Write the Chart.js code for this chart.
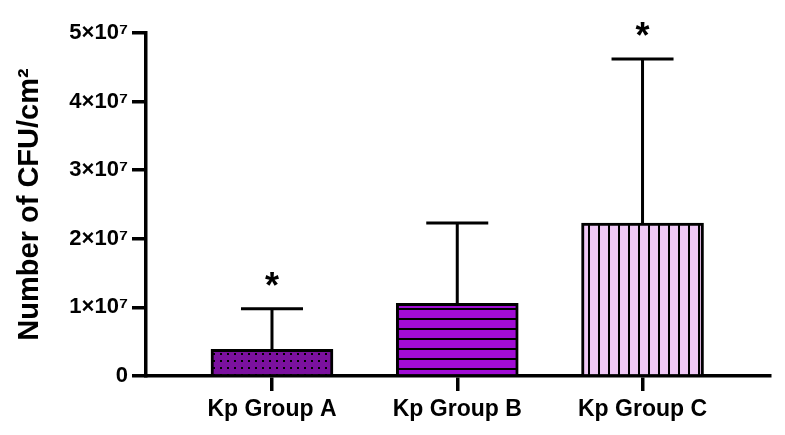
<!DOCTYPE html>
<html>
<head>
<meta charset="utf-8">
<script src="https://cdn.jsdelivr.net/npm/chart.js@4"></script>
<style>
  html, body { margin: 0; padding: 0; background: #fff; }
  #wrap { width: 785px; height: 435px; }
</style>
</head>
<body>
<div id="wrap"><canvas id="c" width="785" height="435"></canvas></div>
<script>
const categories = ['Kp Group A', 'Kp Group B', 'Kp Group C'];
const means = [3.9e6, 1.06e7, 2.23e7];
const sds = [5.9e6, 1.17e7, 2.39e7];
const significant = [true, false, true];
const yTickValues = [0, 1e7, 2e7, 3e7, 4e7, 5e7];
const yTickLabels = ['0', '1×10⁷', '2×10⁷', '3×10⁷', '4×10⁷', '5×10⁷'];
const barColors = ['#7b119f', '#a10cd6', '#efc8f5'];
const yTitle = 'Number of CFU/cm²';

function makePattern(kind, bg) {
  const t = document.createElement('canvas');
  const ctx = t.getContext('2d');
  if (kind === 'dots') {
    t.width = 7; t.height = 7;
    ctx.fillStyle = bg; ctx.fillRect(0, 0, 7, 7);
    ctx.fillStyle = '#000'; ctx.fillRect(3, 3, 2, 2);
  } else if (kind === 'h') {
    t.width = 10; t.height = 10;
    ctx.fillStyle = bg; ctx.fillRect(0, 0, 10, 10);
    ctx.fillStyle = '#000'; ctx.fillRect(0, 8, 10, 2);
  } else {
    t.width = 10; t.height = 10;
    ctx.fillStyle = bg; ctx.fillRect(0, 0, 10, 10);
    ctx.fillStyle = '#000'; ctx.fillRect(8, 0, 2, 10);
  }
  return document.getElementById('c').getContext('2d').createPattern(t, 'repeat');
}
const patterns = [makePattern('dots', barColors[0]), makePattern('h', barColors[1]), makePattern('v', barColors[2])];

const errorBars = {
  id: 'errorBars',
  afterDatasetsDraw(chart) {
    const ctx = chart.ctx;
    const xs = chart.scales.x, ys = chart.scales.y;
    ctx.save();
    ctx.strokeStyle = '#000';
    ctx.lineWidth = 3;
    means.forEach((m, i) => {
      const x = xs.getPixelForValue(i);
      const yb = ys.getPixelForValue(m);
      const yt = ys.getPixelForValue(m + sds[i]);
      ctx.beginPath();
      ctx.moveTo(x, yb); ctx.lineTo(x, yt);
      ctx.moveTo(x - 31, yt); ctx.lineTo(x + 31, yt);
      ctx.stroke();
      if (significant[i]) {
        ctx.fillStyle = '#000';
        ctx.font = 'bold 36px "Liberation Sans", Arial, sans-serif';
        ctx.textAlign = 'center';
        ctx.textBaseline = 'middle';
        ctx.fillText('*', x, yt - 21);
      }
    });
    ctx.restore();
  }
};

new Chart(document.getElementById('c'), {
  type: 'bar',
  data: {
    datasets: [{
      data: categories.map((c, i) => ({ x: i, y: means[i] })),
      backgroundColor: patterns,
      borderColor: '#000',
      borderWidth: 3,
      borderSkipped: 'start',
      barThickness: 122
    }]
  },
  options: {
    responsive: false,
    animation: false,
    devicePixelRatio: 1,
    layout: { padding: { left: 0, right: 15, top: 33, bottom: 0 } },
    plugins: { legend: { display: false }, tooltip: { enabled: false } },
    scales: {
      x: {
        type: 'linear',
        offset: false,
        min: -0.68,
        max: 2.688,
        afterBuildTicks(scale) { scale.ticks = categories.map((c, i) => ({ value: i })); },
        afterFit(scale) { scale.height = 59; },
        ticks: {
          callback: (v) => categories[v],
          color: '#000',
          font: { family: '"Liberation Sans", Arial, sans-serif', size: 23, weight: 'bold' },
          padding: 5,
          maxRotation: 0,
          autoSkip: false
        },
        grid: { display: true, offset: false, drawOnChartArea: false, drawTicks: true, tickLength: 15, color: '#000', lineWidth: 3.5 },
        border: { display: true, color: '#000', width: 3.5 }
      },
      y: {
        min: 0,
        max: 5e7,
        afterBuildTicks(scale) { scale.ticks = yTickValues.map(v => ({ value: v })); },
        afterFit(scale) { scale.width = 146; },
        ticks: {
          callback: (v) => yTickLabels[yTickValues.indexOf(v)],
          color: '#000',
          font: { family: '"Liberation Sans", Arial, sans-serif', size: 22, weight: 'bold' },
          padding: 4
        },
        grid: { display: true, drawOnChartArea: false, drawTicks: true, tickLength: 14, color: '#000', lineWidth: 3.5 },
        border: { display: true, color: '#000', width: 3.5 },
        title: {
          display: true,
          text: yTitle,
          color: '#000',
          font: { family: '"Liberation Sans", Arial, sans-serif', size: 29, weight: 'bold' },
          padding: { top: 13, bottom: 0 }
        }
      }
    }
  },
  plugins: [errorBars]
});
</script>
</body>
</html>
